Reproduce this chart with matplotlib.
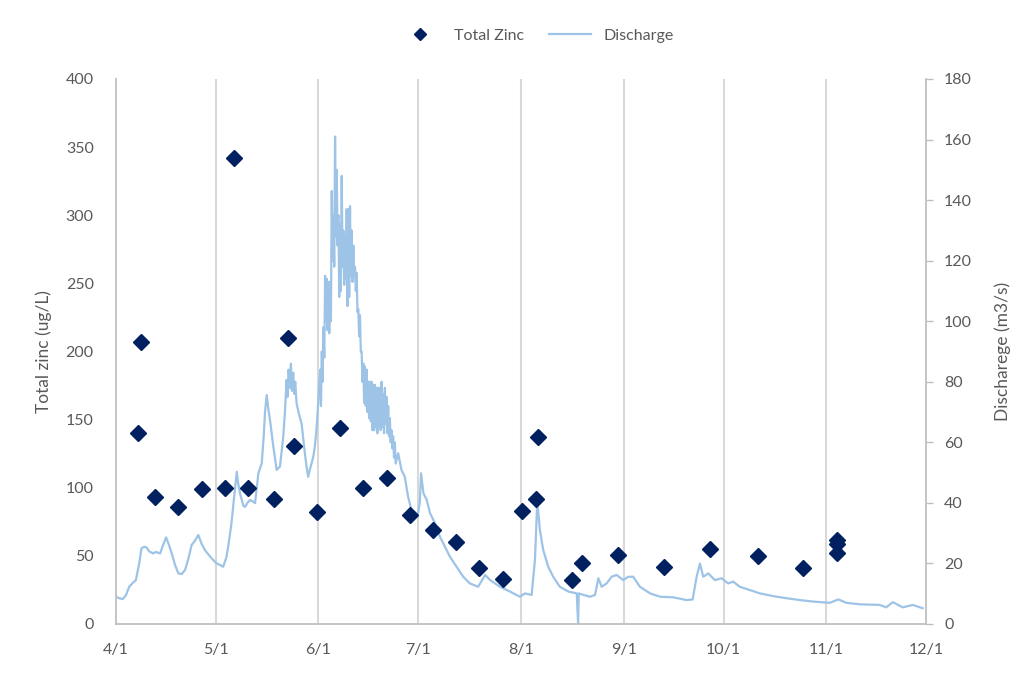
import matplotlib
matplotlib.use("Agg")
import matplotlib.pyplot as plt

# ---------------- data ----------------
month_ticks = [0, 30, 61, 91, 122, 153, 183, 214, 244]          # days since 4/1
month_labels = ["4/1", "5/1", "6/1", "7/1", "8/1", "9/1", "10/1", "11/1", "12/1"]

zinc_day = [6.7, 7.5, 11.8, 18.8, 25.8, 32.7, 35.6, 39.8, 47.6, 51.7, 53.6,
            60.6, 67.6, 74.5, 81.5, 88.5, 95.4, 102.4, 109.4, 116.5, 122.3,
            126.5, 127.2, 137.3, 140.5, 151.3, 165.2, 179.0, 193.3, 207.0,
            217.1, 217.1, 217.1]
zinc_ugL = [140, 207, 93, 86, 99, 100, 342, 100, 92, 210, 131,
            82, 144, 100, 107, 80, 69, 60, 41, 33, 83,
            92, 137, 32, 45, 51, 42, 55, 50, 41,
            62, 59, 52]

# discharge: April - May
q_day_a = [0, 1, 2, 3, 4, 5, 6, 7, 7.7, 8.5, 9.2, 10, 11.2, 12, 13.3, 14, 15.1,
           16, 16.8, 17.8, 18.8, 19.8, 20.8, 21.8, 22.8, 23.8, 24.8, 25.8, 26.8,
           27.8, 28.8, 30.3, 31.3, 32.3, 33.3, 34, 34.8, 35.6, 36.4, 36.8, 37.4,
           37.9, 38.4, 38.9, 39.6, 40.4, 41.2, 41.9, 42.9, 43.9, 44.5, 44.9, 45.4,
           45.9, 46.4, 47.4, 48.4, 49.4, 50.4, 50.9, 51.4, 51.7, 52, 52.4, 52.7,
           53, 53.4, 53.7, 54, 54.4, 55.2, 55.9, 56.9, 57.4, 57.9, 58.4, 58.9,
           59.4, 59.9, 60.3, 60.6, 61.0]
q_val_a = [9.0, 8.5, 8.2, 9.5, 12.3, 13.5, 14.5, 20, 25, 25.5, 25.3, 24, 23.3,
           23.8, 23.3, 25.5, 28.6, 26, 23.3, 19.5, 16.7, 16.5, 17.8, 21.5, 26.1,
           27.5, 29.4, 26.5, 24.4, 23, 21.7, 20.0, 19.5, 18.9, 22.2, 27, 33.3,
           42, 50.3, 46.5, 43, 41, 39, 38.7, 40, 41, 40.5, 39.9, 49.8, 53, 62,
           70, 75.6, 71, 67.4, 58.6, 50.9, 52, 61.9, 70, 80.6, 75, 84, 78, 86,
           77, 83, 76, 80, 72.9, 69, 66.3, 56.4, 52, 48.6, 51, 53, 55, 58.6, 63,
           67.4, 75]

# discharge: June high-flow period (diurnal swings: high / low pairs)
q_day_b = [61.5, 62.0, 62.5, 63.0, 63.5, 64.0, 64.5, 65.0, 65.5, 66.0, 66.5,
           67.0, 67.5, 68.0, 68.5, 69.0, 69.5, 70.0, 70.5, 71.0, 71.5, 72.0,
           72.5, 73.0, 73.5, 74.0, 74.5, 75.0, 75.5, 76.0, 76.5, 77.0, 77.5,
           78.0, 78.5, 79.0, 79.5, 80.0, 80.5, 81.0, 81.5, 82.0, 82.5, 83.0,
           83.5, 84.0]
q_hi_b = [84, 90, 98, 115, 114, 113, 113, 143, 135, 161, 150, 135, 132, 148,
          130, 128, 137, 137, 138, 130, 125, 118, 116, 104, 102, 90, 86, 85, 84,
          80, 80, 80, 79, 79, 78, 78, 78, 80, 76, 78, 75, 72, 68, 64, 62, 60]
q_lo_b = [72, 80, 88, 100, 97, 96, 100, 120, 118, 128, 125, 108, 110, 118, 112,
          114, 105, 108, 115, 113, 115, 110, 103, 95, 90, 80, 73, 72, 70, 68, 67,
          64, 64, 65, 63, 65, 64, 65, 63, 66, 63, 62, 60, 58, 55, 53]

# discharge: July - November
q_day_c = [85, 86, 87, 88, 89, 90, 91, 91.5, 91.9, 92.3, 92.6, 93.6, 94.6, 96.1,
           97.6, 99.1, 100.6, 102.6, 104.6, 106.6, 109.1, 111.2, 112.7, 115.7,
           118.7, 121.7, 123.2, 125.2, 126.2, 126.9, 127.7, 128.7, 130.2, 131.7,
           133.7, 136.3, 138.8, 139.2, 139.4, 140.8, 142.8, 144.3, 145.3, 146.3,
           147.8, 149.3, 150.8, 152.8, 154.3, 155.8, 157.8, 160.9, 163.9, 167.9,
           171.9, 173.7, 174.9, 175.9, 176.9, 178.4, 180.4, 182.4, 184.4, 185.9,
           187.9, 191, 194, 198, 202, 206, 210, 215, 217.6, 220, 224, 230, 232,
           234, 237, 240, 243]
q_val_c = [56.4, 50.9, 48.6, 42, 37.6, 35.4, 36.6, 40, 49.8, 46, 43.2, 41, 36.6,
           33.3, 28.8, 25.5, 22.2, 18.9, 15.6, 13.4, 12.3, 16.2, 14.5, 12.3, 10.7,
           9.0, 10.1, 9.6, 21.1, 40.4, 31, 24.4, 18.9, 15.6, 12.3, 10.7, 10.1, 0.2,
           10.1, 9.6, 9.0, 9.6, 15.1, 12.3, 13.4, 15.6, 16.2, 14.5, 15.6, 15.6,
           12.3, 10.1, 9.0, 8.8, 7.9, 8.1, 15.6, 20, 15.6, 16.7, 14.5, 15.1, 13.4,
           14, 12.3, 11.2, 10.1, 9.2, 8.5, 7.9, 7.4, 7.0, 8.1, 7.0, 6.5, 6.3, 5.5,
           7.2, 5.5, 6.3, 5.2]

# assemble the discharge line
q_day = list(q_day_a)
q_val = list(q_val_a)
for d, hi, lo in zip(q_day_b, q_hi_b, q_lo_b):
    q_day += [d, d + 0.25]
    q_val += [hi, lo]
q_day += q_day_c
q_val += q_val_c

# ---------------- style ----------------
FONT = ["Lato", "DejaVu Sans"]
plt.rcParams["font.family"] = FONT
TXT = "#595959"
AXC = "#BFBFBF"
GRID = "#D9D9D9"
LINE = "#9DC3E6"
NAVY = "#002060"

fig = plt.figure(figsize=(10.28, 6.74), dpi=100)
ax = fig.add_axes([0.1128, 0.0742, 0.788, 0.8086])
ax2 = ax.twinx()

ax.set_zorder(2)
ax.patch.set_visible(False)

# discharge line on the right axis
ln, = ax2.plot(q_day, q_val, color=LINE, lw=1.6, label="Discharge")
# zinc points on the left axis
sc, = ax.plot(zinc_day, zinc_ugL, linestyle="none", marker="D", ms=8,
              color=NAVY, label="Total Zinc")

ax.set_xlim(month_ticks[0], month_ticks[-1])
ax.set_ylim(0, 400)
ax2.set_ylim(0, 180)
ax.set_yticks(range(0, 401, 50))
ax2.set_yticks(range(0, 181, 20))
ax.set_xticks(month_ticks)
ax.set_xticklabels(month_labels)

# vertical month gridlines
for t in month_ticks[1:-1]:
    ax2.axvline(t, color=GRID, lw=1.5, zorder=0)

for a in (ax, ax2):
    for s in a.spines.values():
        s.set_visible(False)
ax.spines["left"].set_visible(True)
ax.spines["left"].set_color(AXC)
ax.spines["left"].set_linewidth(1.3)
ax.spines["bottom"].set_visible(True)
ax.spines["bottom"].set_color(AXC)
ax.spines["bottom"].set_linewidth(1.3)
ax2.spines["right"].set_visible(True)
ax2.spines["right"].set_color(AXC)
ax2.spines["right"].set_linewidth(1.3)

ax.tick_params(axis="y", length=0, labelsize=11.5, labelcolor=TXT, pad=16)
ax.tick_params(axis="x", length=0, labelsize=11.5, labelcolor=TXT, pad=14)
ax2.tick_params(axis="y", length=5, width=1, color=AXC, labelsize=11.5,
                labelcolor=TXT, pad=8)

ax.set_ylabel("Total zinc (ug/L)", fontsize=12.5, color=TXT, labelpad=10)
ax2.set_ylabel("Discharege (m3/s)", fontsize=12.5, color=TXT, labelpad=16)

leg = fig.legend(handles=[sc, ln], labels=["Total Zinc", "Discharge"],
                 loc="center", bbox_to_anchor=(0.522, 0.947), ncol=2,
                 frameon=False, fontsize=11.5, handlelength=2.6,
                 columnspacing=1.6, handletextpad=0.8)
for t in leg.get_texts():
    t.set_color(TXT)
leg.legend_handles[0].set_markersize(6)

fig.savefig("out.png", dpi=100)
